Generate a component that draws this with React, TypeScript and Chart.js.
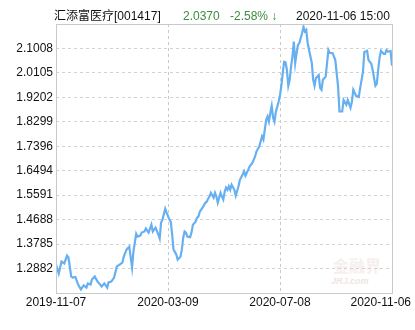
import React, { useEffect, useRef } from "react";
import { Chart, registerables } from "chart.js";

Chart.register(...registerables);

const fundName = "汇添富医疗[001417]";
const latestNav = "2.0370";
const latestChange = "-2.58% ↓";
const latestTime = "2020-11-06 15:00";

const dayIndex = [
  0, 2, 4, 6, 8, 9, 11, 12, 14, 16, 18, 20, 22, 23, 25, 26, 28, 30, 32, 33,
  35, 37, 38, 40, 42, 44, 46, 48, 49, 51, 53, 55, 56, 58, 59, 61, 62, 64, 65, 67,
  69, 70, 72, 74, 75, 76, 77, 79, 80, 82, 83, 84, 85, 87, 88, 90, 91, 92, 93, 94,
  95, 97, 98, 99, 101, 102, 103, 104, 105, 106, 108, 109, 110, 111, 112, 114, 115, 116, 117, 119,
  120, 121, 122, 123, 124, 125, 126, 127, 129, 130, 132, 133, 135, 136, 137, 139, 140, 142, 144, 145,
  147, 148, 149, 150, 151, 152, 153, 154, 155, 156, 157, 158, 159, 161, 162, 163, 164, 165, 166, 167,
  168, 169, 170, 171, 172, 173, 174, 175, 176, 178, 179, 180, 181, 182, 183, 184, 185, 186, 187, 188,
  190, 191, 192, 193, 195, 197, 198, 200, 202, 204, 205, 207, 208, 210, 211, 213, 214, 215, 216, 217,
  219, 220, 222, 223, 225, 226, 227, 228, 229, 231, 232, 233, 234, 235, 237, 238, 239, 240, 242, 243,
];

const navValues = [
  1.303, 1.27, 1.314, 1.307, 1.336, 1.329, 1.259, 1.255, 1.257, 1.229, 1.211, 1.226, 1.218, 1.233, 1.229, 1.248, 1.259, 1.24, 1.229, 1.222,
  1.233, 1.218, 1.237, 1.24, 1.255, 1.296, 1.303, 1.31, 1.332, 1.358, 1.369, 1.292, 1.351, 1.417, 1.406, 1.41, 1.421, 1.425, 1.436, 1.421,
  1.45, 1.425, 1.439, 1.414, 1.399, 1.458, 1.469, 1.509, 1.495, 1.469, 1.461, 1.414, 1.358, 1.34, 1.321, 1.332, 1.358, 1.402, 1.425, 1.421,
  1.406, 1.404, 1.421, 1.45, 1.461, 1.476, 1.48, 1.498, 1.506, 1.513, 1.531, 1.535, 1.546, 1.554, 1.568, 1.55, 1.568, 1.554, 1.531, 1.568,
  1.554, 1.543, 1.572, 1.587, 1.579, 1.592, 1.579, 1.598, 1.579, 1.557, 1.592, 1.616, 1.635, 1.647, 1.631, 1.653, 1.665, 1.678, 1.702, 1.721,
  1.739, 1.757, 1.776, 1.764, 1.8, 1.837, 1.85, 1.831, 1.863, 1.889, 1.845, 1.83, 1.867, 1.904, 1.929, 1.963, 2.011, 2.052, 2.05, 2.022,
  1.963, 1.985, 2.034, 2.071, 2.126, 2.047, 2.084, 2.114, 2.121, 2.158, 2.18, 2.163, 2.169, 2.121, 2.095, 2.071, 2.047, 1.985, 1.963, 1.992,
  2.003, 1.955, 1.948, 1.985, 1.996, 2.095, 2.084, 2.084, 2.058, 1.96, 1.868, 1.868, 1.911, 1.893, 1.911, 1.882, 1.904, 1.948, 1.937, 1.926,
  1.922, 1.955, 2.014, 2.088, 2.092, 2.058, 2.051, 2.044, 2.022, 1.963, 1.97, 2.022, 2.066, 2.092, 2.081, 2.081, 2.095, 2.089, 2.091, 2.037,
];

const yTickLabels = ["1.2882", "1.3785", "1.4688", "1.5591", "1.6494", "1.7396", "1.8299", "1.9202", "2.0105", "2.1008"];
const yMin = 1.1979;
const yMax = 2.1911;

const xTickIndex = [0, 81, 162, 243];
const xTickLabels = ["2019-11-07", "2020-03-09", "2020-07-08", "2020-11-06"];

const W = 415;
const H = 330;
const FONT = "'Liberation Sans', 'Noto Sans CJK SC', sans-serif";

const framePlugin = {
  id: "frameAndXLabels",
  afterDraw(chart: any) {
    const { ctx, chartArea: a, scales } = chart;
    ctx.save();
    ctx.strokeStyle = "#c9c9c9";
    ctx.lineWidth = 1;
    ctx.setLineDash([]);
    ctx.strokeRect(a.left + 0.5, a.top + 0.5, a.right - a.left, a.bottom - a.top);
    ctx.font = "12px " + FONT;
    ctx.fillStyle = "#111";
    ctx.textBaseline = "middle";
    ctx.textAlign = "left";
    xTickIndex.forEach((v, i) => {
      const label = xTickLabels[i];
      const px = scales.x.getPixelForValue(v);
      const w = ctx.measureText(label).width;
      let left = px - w / 2;
      left = Math.max(0, Math.min(left, W - 4 - w));
      ctx.fillText(label, left, a.bottom + 10);
    });
    ctx.restore();
  },
};

export default function App() {
  const ref = useRef<HTMLCanvasElement | null>(null);

  useEffect(() => {
    if (!ref.current) return;
    const data = dayIndex.map((d, i) => ({ x: d, y: navValues[i] }));
    const chart = new Chart(ref.current, {
      type: "line",
      data: {
        datasets: [
          {
            data,
            borderColor: "#66b0f2",
            borderWidth: 2.2,
            pointRadius: 0,
            tension: 0,
            fill: false,
          },
        ],
      },
      options: {
        animation: false,
        responsive: false,
        devicePixelRatio: 1,
        layout: { padding: { left: 0, top: 24, right: W - 392, bottom: 0 } },
        plugins: { legend: { display: false }, tooltip: { enabled: false } },
        scales: {
          x: {
            type: "linear",
            min: xTickIndex[0],
            max: xTickIndex[xTickIndex.length - 1],
            afterBuildTicks: (scale: any) => {
              scale.ticks = xTickIndex.map((v) => ({ value: v }));
            },
            afterFit: (scale: any) => {
              scale.height = H - 293;
            },
            ticks: { display: false },
            grid: {
              drawTicks: false,
              color: (c: any) =>
                c.index === 0 || c.index === xTickIndex.length - 1 ? "rgba(0,0,0,0)" : "#c9c9c9",
            },
            border: { display: false, dash: [3, 3] },
          },
          y: {
            type: "linear",
            min: yMin,
            max: yMax,
            afterBuildTicks: (scale: any) => {
              scale.ticks = yTickLabels.map((s) => ({ value: parseFloat(s) }));
            },
            afterFit: (scale: any) => {
              scale.width = 56;
            },
            ticks: {
              padding: 3,
              color: "#111",
              font: { family: FONT, size: 12 },
              callback: (v: any) => {
                const n = Number(v);
                const found = yTickLabels.find((s) => Math.abs(parseFloat(s) - n) < 1e-6);
                return found ?? n.toFixed(4);
              },
            },
            grid: { drawTicks: false, color: "#d2d2d2" },
            border: { display: false, dash: [3, 3] },
          },
        },
      },
      plugins: [framePlugin],
    });
    return () => chart.destroy();
  }, []);

  const span = (left: number, color: string, text: string) => (
    <span
      style={{
        position: "absolute",
        left,
        top: 10,
        lineHeight: "12px",
        fontSize: 12,
        fontFamily: FONT,
        color,
        whiteSpace: "nowrap",
      }}
    >
      {text}
    </span>
  );

  return (
    <div style={{ position: "absolute", left: 0, top: 0, width: W, height: H, background: "#fff", overflow: "hidden" }}>
      <div
        style={{
          position: "absolute",
          left: 333,
          top: 256,
          fontSize: 16,
          fontWeight: "bold",
          color: "#f7eeee",
          fontFamily: "'Noto Sans CJK SC', sans-serif",
          lineHeight: "18px",
        }}
      >
        金融界
      </div>
      <div
        style={{
          position: "absolute",
          left: 331,
          top: 276,
          fontSize: 9,
          fontStyle: "italic",
          fontWeight: "bold",
          color: "#f0e4e4",
          fontFamily: FONT,
          lineHeight: "10px",
        }}
      >
        JRJ.com
      </div>
      <canvas ref={ref} width={W} height={H} style={{ position: "absolute", left: 0, top: 0, width: W, height: H }} />
      {span(54, "#111", fundName)}
      {span(183, "#3c8c3c", latestNav)}
      {span(230, "#3c8c3c", latestChange)}
      {span(296, "#111", latestTime)}
    </div>
  );
}
